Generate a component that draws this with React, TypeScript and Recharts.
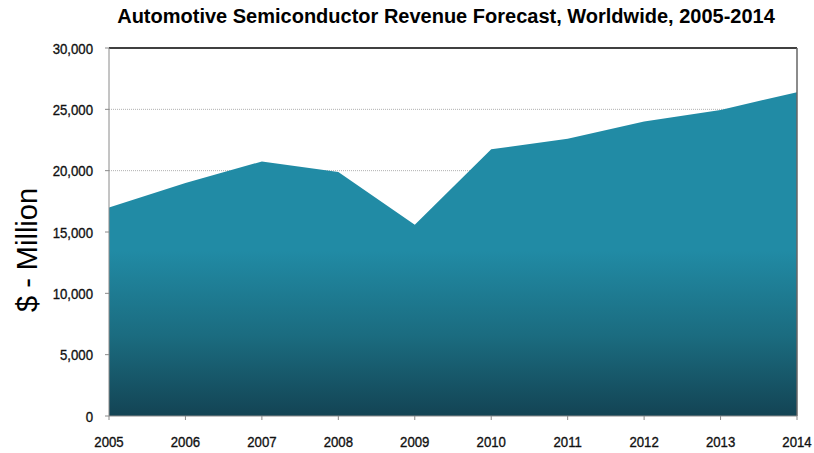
import React from 'react';
import {
  AreaChart,
  Area,
  XAxis,
  YAxis,
  CartesianGrid,
  ReferenceLine,
} from 'recharts';

// Revenue in $ millions
const years = ['2005', '2006', '2007', '2008', '2009', '2010', '2011', '2012', '2013', '2014'];
const revenue = [17000, 19000, 20750, 19900, 15600, 21750, 22600, 24000, 24950, 26400];
const yTicks = [0, 5000, 10000, 15000, 20000, 25000, 30000];

const TITLE = 'Automotive Semiconductor Revenue Forecast, Worldwide, 2005-2014';
const Y_LABEL = '$ - Million';
const FONT = '"Liberation Sans", Arial, sans-serif';

// narrow-looking tick text (no Arial Narrow here, so squeeze Liberation Sans)
const NarrowTick = ({ x, y, payload, anchor, dy, format }: any) => (
  <g transform={`translate(${x},${y}) scale(0.88,1)`}>
    <text
      x={0}
      y={0}
      dy={dy}
      textAnchor={anchor}
      fontSize={15}
      fontFamily={FONT}
      fill="#111"
      stroke="#111"
      strokeWidth={0.35}
    >
      {format ? format(payload.value) : payload.value}
    </text>
  </g>
);

const fmt = (v: number) => v.toLocaleString('en-US');

// rotated axis title, placed where the reference has it
const YTitle = () => (
  <text
    x={27}
    y={250}
    transform="rotate(-90 27 250)"
    textAnchor="middle"
    dominantBaseline="central"
    fontSize={29}
    fill="#000"
    fontFamily={FONT}
  >
    {Y_LABEL}
  </text>
);

export default function App() {
  const data = years.map((year, i) => ({ year, revenue: revenue[i] }));

  return (
    <div style={{ position: 'absolute', left: 0, top: 0, width: 814, height: 453, background: '#fff' }}>
      <div
        style={{
          position: 'absolute',
          left: 0,
          top: 5,
          width: 892,
          textAlign: 'center',
          fontFamily: FONT,
          fontWeight: 'bold',
          fontSize: 20,
          color: '#000',
        }}
      >
        {TITLE}
      </div>
      <AreaChart
        width={814}
        height={453}
        data={data}
        margin={{ top: 48, right: 17, bottom: 0, left: 0 }}
      >
        <defs>
          <linearGradient id="revFill" gradientUnits="userSpaceOnUse" x1="0" y1="48" x2="0" y2="416">
            <stop offset="0" stopColor="#218BA5" />
            <stop offset="0.55" stopColor="#218BA5" />
            <stop offset="0.78" stopColor="#1B6C80" />
            <stop offset="1" stopColor="#134454" />
          </linearGradient>
        </defs>
        <CartesianGrid
          vertical={false}
          stroke="#b0b0b0"
          strokeDasharray="1 1"
          horizontalValues={[5000, 10000, 15000, 20000, 25000]}
        />
        <ReferenceLine y={30000} stroke="#000" strokeWidth={1.5} />
        <ReferenceLine x="2014" stroke="#666" strokeWidth={1.5} />
        <XAxis
          dataKey="year"
          height={37}
          stroke="#8a8a8a"
          tickLine={{ stroke: '#8a8a8a' }}
          tickSize={4}
          tickMargin={0}
          tick={<NarrowTick anchor="middle" dy={27} />}
          interval={0}
        />
        <YAxis
          width={109}
          domain={[0, 30000]}
          ticks={yTicks}
          stroke="#8a8a8a"
          tickLine={{ stroke: '#8a8a8a' }}
          tickSize={4}
          tickMargin={12}
          tick={<NarrowTick anchor="end" dy={5.5} format={fmt} />}
          label={{ content: () => <YTitle /> }}
        />
        <Area
          type="linear"
          dataKey="revenue"
          stroke="none"
          fill="url(#revFill)"
          fillOpacity={1}
          isAnimationActive={false}
        />
      </AreaChart>
    </div>
  );
}
